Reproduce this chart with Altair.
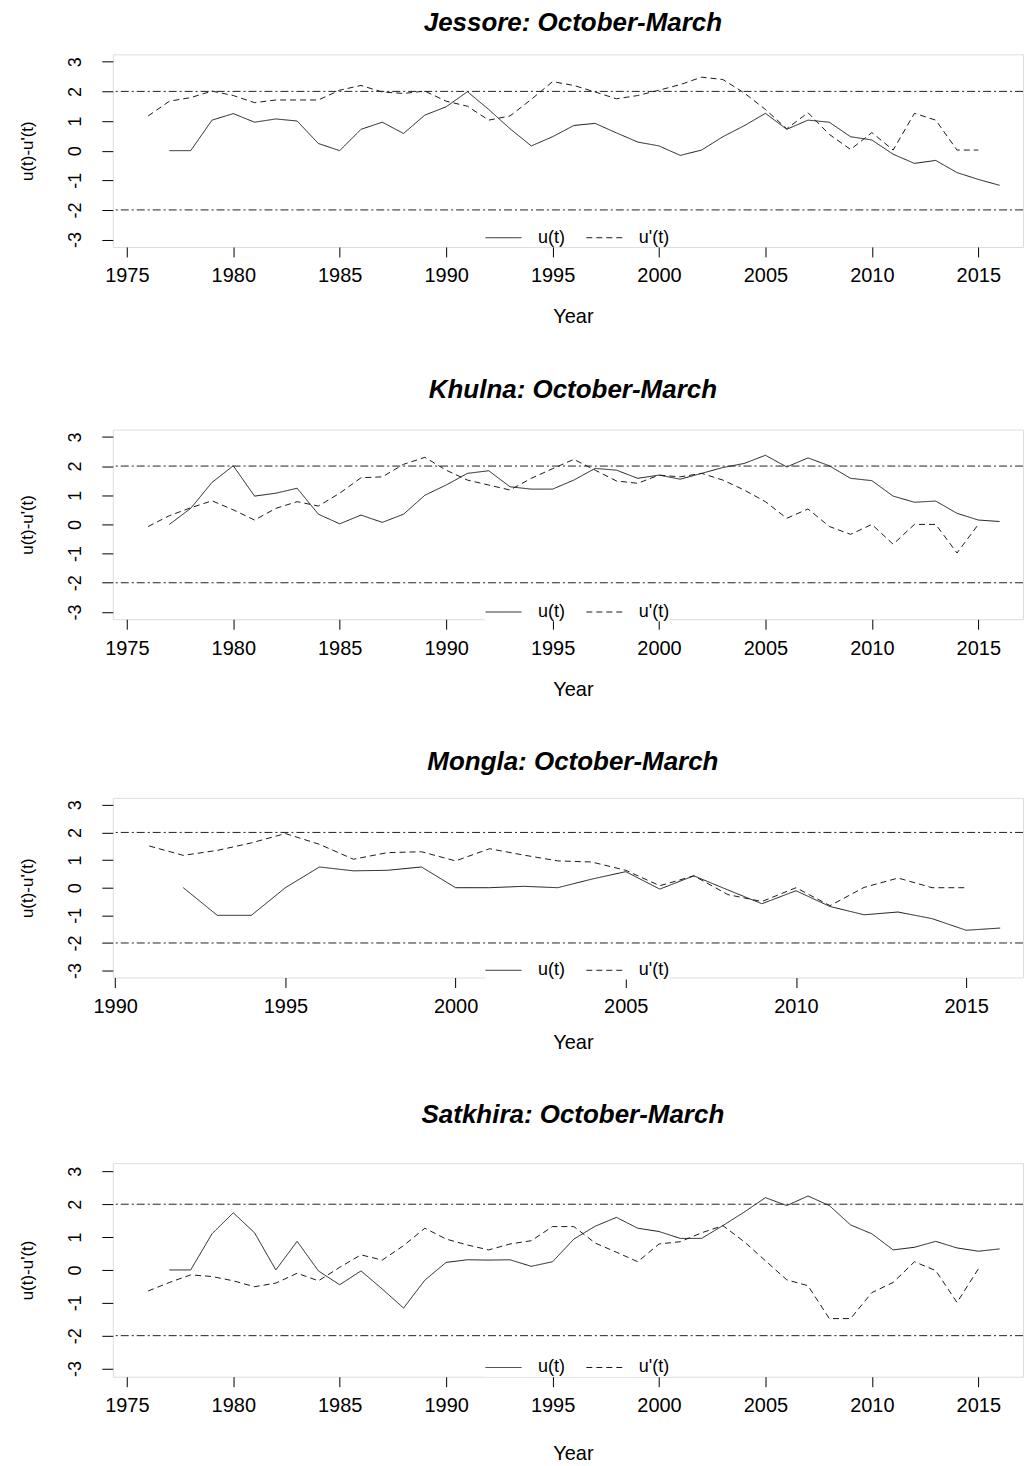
import altair as alt
import pandas as pd

FONT = "Liberation Sans"

# ---------------- data ----------------
titles = ["Jessore: October-March", "Khulna: October-March",
          "Mongla: October-March", "Satkhira: October-March"]

# Jessore
jes_u_years = list(range(1977, 2017))
jes_u = [0.0, 0.0, 1.03, 1.25, 0.96, 1.07, 1.0, 0.24, 0.0, 0.72,
         0.96, 0.58, 1.2, 1.48, 1.99, 1.39, 0.74, 0.16, 0.47, 0.85,
         0.92, 0.6, 0.29, 0.16, -0.16, 0.02, 0.47, 0.84, 1.26, 0.72,
         1.03, 0.96, 0.47, 0.36, -0.12, -0.43, -0.33, -0.74, -0.97, -1.17]
jes_p_years = list(range(1976, 2016))
jes_p = [1.17, 1.67, 1.79, 2.01, 1.86, 1.62, 1.71, 1.71, 1.71, 2.04,
         2.2, 1.98, 1.93, 2.01, 1.67, 1.5, 1.03, 1.17, 1.73, 2.33,
         2.2, 1.98, 1.75, 1.86, 2.04, 2.23, 2.48, 2.4, 1.95, 1.39,
         0.74, 1.28, 0.55, 0.04, 0.61, 0.02, 1.26, 1.03, 0.02, 0.02]

# Khulna
khu_u_years = list(range(1977, 2017))
khu_u = [0.0, 0.55, 1.44, 2.01, 0.97, 1.07, 1.24, 0.35, 0.02, 0.32,
         0.07, 0.35, 1.0, 1.35, 1.75, 1.84, 1.29, 1.21, 1.21, 1.52,
         1.92, 1.86, 1.58, 1.69, 1.55, 1.75, 1.95, 2.09, 2.37, 1.97,
         2.28, 2.01, 1.58, 1.5, 0.97, 0.76, 0.8, 0.38, 0.15, 0.1]
khu_p_years = list(range(1976, 2016))
khu_p = [-0.07, 0.3, 0.57, 0.81, 0.5, 0.15, 0.55, 0.78, 0.63, 1.07,
         1.6, 1.63, 2.06, 2.3, 1.86, 1.52, 1.35, 1.18, 1.58, 1.91,
         2.23, 1.86, 1.49, 1.41, 1.69, 1.63, 1.75, 1.52, 1.18, 0.78,
         0.21, 0.53, -0.07, -0.34, 0.0, -0.68, 0.0, 0.0, -0.98, 0.0]

# Mongla
mon_u_years = list(range(1992, 2017))
mon_u = [0.0, -1.0, -1.0, 0.0, 0.75, 0.61, 0.63, 0.75, 0.0, 0.0, 0.05, 0.0,
         0.31, 0.58, -0.05, 0.43, -0.08, -0.58, -0.11, -0.68, -0.98, -0.88,
         -1.12, -1.54, -1.46]
mon_p_years = list(range(1991, 2016))
mon_p = [1.51, 1.17, 1.35, 1.62, 1.96, 1.57, 1.03, 1.27, 1.3, 0.97, 1.41, 1.18,
         0.97, 0.93, 0.63, 0.07, 0.43, -0.25, -0.5, 0.0, -0.65, 0.01, 0.35,
         0.0, 0.0]

# Satkhira
sat_u_years = list(range(1977, 2017))
sat_u = [0.0, 0.0, 1.1, 1.74, 1.13, 0.0, 0.87, -0.03, -0.45, -0.03,
         -0.58, -1.16, -0.31, 0.23, 0.31, 0.3, 0.31, 0.11, 0.25, 0.94,
         1.33, 1.6, 1.27, 1.17, 0.96, 0.96, 1.35, 1.76, 2.2, 1.96,
         2.25, 1.96, 1.37, 1.1, 0.61, 0.69, 0.87, 0.67, 0.57, 0.64]
sat_p_years = list(range(1976, 2016))
sat_p = [-0.64, -0.38, -0.15, -0.2, -0.33, -0.51, -0.4, -0.1, -0.33, 0.08,
         0.46, 0.3, 0.74, 1.27, 0.94, 0.76, 0.61, 0.79, 0.89, 1.32,
         1.32, 0.82, 0.54, 0.25, 0.79, 0.86, 1.13, 1.35, 0.86, 0.28,
         -0.3, -0.48, -1.48, -1.48, -0.69, -0.38, 0.25, -0.02, -0.99, 0.03]

series_names = ["u(t)", "u'(t)"]
ref_levels = [2, -2]
y_ticks = [-3, -2, -1, 0, 1, 2, 3]
x_ticks_long = [1975, 1980, 1985, 1990, 1995, 2000, 2005, 2010, 2015]
x_ticks_short = [1990, 1995, 2000, 2005, 2010, 2015]

PLOT_W = 912


def panel(title, uy, u, py, p, xdomain, xticks, height, title_offset,
          year_y, legend_y):
    df = pd.DataFrame({
        "Year": uy + py,
        "value": u + p,
        "series": [series_names[0]] * len(u) + [series_names[1]] * len(p),
    })
    ref = pd.DataFrame({"value": ref_levels})

    x_enc = alt.X(
        "Year:Q",
        scale=alt.Scale(domain=xdomain, nice=False, zero=False),
        axis=alt.Axis(
            values=xticks, format="d", title="Year", grid=False, domain=False,
            tickSize=10, tickColor="black", labelColor="black",
            labelFontSize=20, labelFont=FONT, labelPadding=19,
            labelBaseline="middle", labelAlign="center", labelFlush=False,
            labelOverlap=False, titleFont=FONT, titleFontSize=20,
            titleFontWeight="normal", titleColor="black",
            titleX=461, titleY=year_y, titleBaseline="middle",
            titleAlign="center"),
    )
    y_enc = alt.Y(
        "value:Q",
        scale=alt.Scale(domain=[-3.25, 3.25], nice=False, zero=False),
        axis=alt.Axis(
            values=y_ticks, title="u(t)-u'(t)", grid=False, domain=False,
            labelExpr="datum.value < 0 ? '-' + abs(datum.value) : '' + datum.value",
            tickSize=11, tickColor="black", labelColor="black",
            labelFontSize=18, labelFont=FONT, labelAngle=270,
            labelAlign="center", labelBaseline="middle", labelPadding=26,
            labelOverlap=False, titleFont=FONT, titleFontSize=17,
            titleFontWeight="normal", titleColor="black", titleAngle=270,
            titleX=-85, titleY=height / 2, titleAlign="center",
            titleBaseline="middle"),
    )

    rules = alt.Chart(ref).mark_rule(
        color="#222222", strokeWidth=1, strokeDash=[8, 3, 2, 3]
    ).encode(y=y_enc)

    lines = alt.Chart(df).mark_line(color="#1a1a1a", strokeWidth=1).encode(
        x=x_enc,
        y=y_enc,
        strokeDash=alt.StrokeDash(
            "series:N",
            scale=alt.Scale(domain=series_names, range=[[1, 0], [6, 4]]),
            legend=alt.Legend(
                title=None, orient="none", legendX=373, legendY=legend_y,
                direction="horizontal", symbolType="stroke",
                symbolSize=1296, symbolStrokeWidth=1,
                symbolStrokeColor="#1a1a1a", labelFont=FONT,
                labelFontSize=18, labelColor="black", labelOffset=16,
                columnPadding=19, padding=0, fillColor="white",
                labelLimit=0),
        ),
    )

    return alt.layer(rules, lines).properties(
        width=PLOT_W, height=height,
        title=alt.TitleParams(
            title, font=FONT, fontSize=26, fontWeight="bold",
            fontStyle="italic", color="black", anchor="middle",
            frame="group", offset=title_offset, dx=5),
    )


p1 = panel(titles[0], jes_u_years, jes_u, jes_p_years, jes_p,
           [1974.34, 2017.1], x_ticks_long, 193, 18, 70, 165)
p2 = panel(titles[1], khu_u_years, khu_u, khu_p_years, khu_p,
           [1974.34, 2017.1], x_ticks_long, 190, 27, 70, 164)
p3 = panel(titles[2], mon_u_years, mon_u, mon_p_years, mon_p,
           [1989.93, 2016.67], x_ticks_short, 180, 23, 65, 154)
p4 = panel(titles[3], sat_u_years, sat_u, sat_p_years, sat_p,
           [1974.34, 2017.1], x_ticks_long, 214, 35, 77, 186)

chart = alt.vconcat(p1, p2, p3, p4, spacing=48).resolve_scale(
    strokeDash="independent", x="independent", y="independent"
).resolve_legend(strokeDash="independent").properties(
    padding={"top": 0, "left": 10, "right": 0, "bottom": 0}
).configure_view(stroke="black", strokeWidth=1).configure(font=FONT)

chart.save("out.html", embed_options={"renderer": "svg", "actions": False})
